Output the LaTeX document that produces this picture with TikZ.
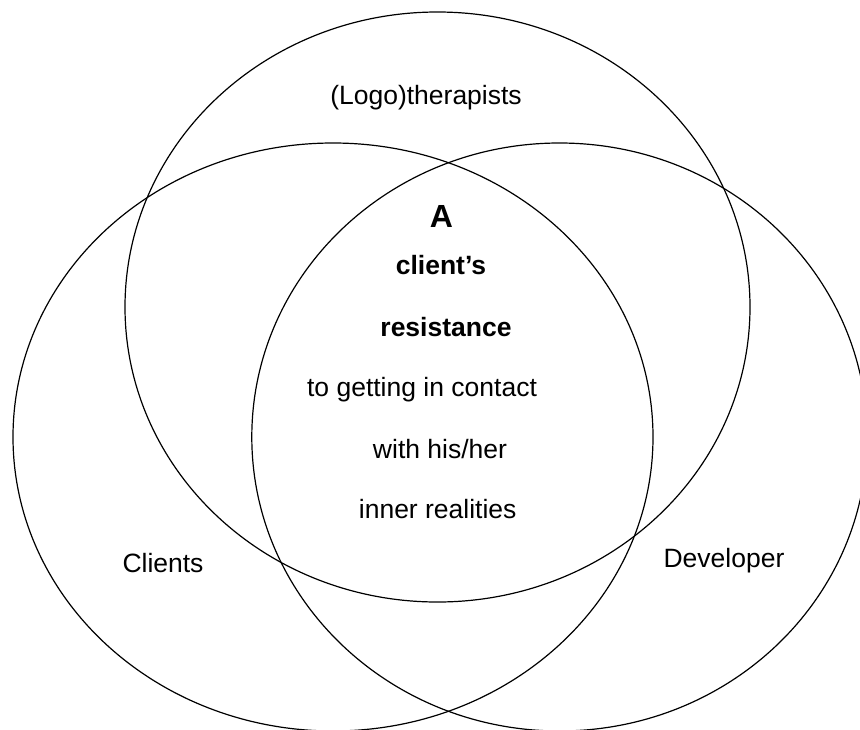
\documentclass[tikz,border=0pt]{standalone}
\usepackage{fontspec}
\setmainfont{Liberation Sans}
\begin{document}
\begin{tikzpicture}[x=1pt,y=-1pt,
  ring/.style={line width=1.2pt, draw=black},
  lbl/.style={anchor=base, inner sep=0pt, font=\fontsize{26.5}{30}\selectfont},
  boldlbl/.style={anchor=base, inner sep=0pt, font=\fontsize{26.5}{30}\selectfont\bfseries},
  biglbl/.style={anchor=base, inner sep=0pt, font=\fontsize{32}{36}\selectfont\bfseries}]
\useasboundingbox (0,0) rectangle (860,729);
\begin{scope}
  \clip (0,0) rectangle (860,729);
  % (Logo)therapists
  \draw[ring] (437.5,307) ellipse [x radius=312.5, y radius=295];
  % Clients
  \draw[ring] (333,437) ellipse [x radius=320, y radius=294];
  % Developer
  \draw[ring] (559.5,437) ellipse [x radius=307.7, y radius=294];
\end{scope}
\node[lbl] (therapists) at (426,104) {(Logo)therapists};
\node[lbl] (clients) at (163,572) {Clients};
\node[lbl] (developer) at (724,567) {Developer};
\node[biglbl] (a) at (441.5,227.3) {A};
\node[boldlbl] (clientres) at (441,274) {client’s};
\node[boldlbl] (resistance) at (446,336) {resistance};
\node[lbl] (contact) at (422,396.7) {to getting in contact};
\node[lbl] (his) at (440,458) {with his/her};
\node[lbl] (inner) at (437.7,518) {inner realities};
\end{tikzpicture}
\end{document}
